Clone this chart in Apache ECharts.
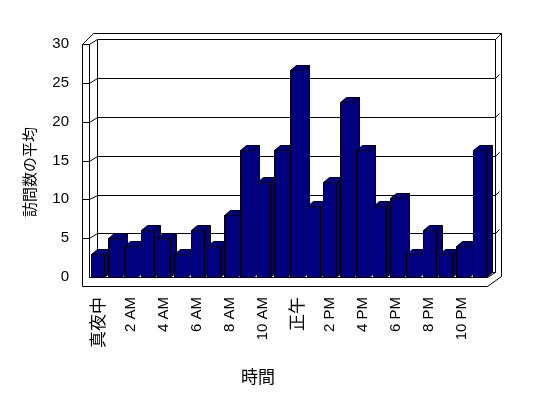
<!DOCTYPE html>
<html>
<head>
<meta charset="utf-8">
<script src="https://cdn.jsdelivr.net/npm/echarts@6/dist/echarts.min.js"></script>
<style>
  html, body { margin: 0; padding: 0; background: #fff; }
  #chart { width: 548px; height: 398px; }
</style>
</head>
<body>
<div id="chart"></div>
<script>
var hours = ['真夜中', '1 AM', '2 AM', '3 AM', '4 AM', '5 AM', '6 AM', '7 AM', '8 AM', '9 AM', '10 AM', '11 AM',
             '正午', '1 PM', '2 PM', '3 PM', '4 PM', '5 PM', '6 PM', '7 PM', '8 PM', '9 PM', '10 PM', '11 PM'];
var visits = [3, 5, 4, 6, 5, 3, 6, 4, 8, 16.3, 12.2, 16.3,
              26.6, 9.1, 12.2, 22.5, 16.3, 9.1, 10.2, 3, 6, 3, 4, 16.3];
var gridValues = [5, 10, 15, 20, 25];

var dom = document.getElementById('chart');
var myChart = echarts.init(dom);

var LT = 7.5;            // left wall front thickness
var FT = 9;              // floor front thickness
var WDX = 7.5, WDY = -4.7; // wall depth
var SDX = 6.5, SDY = -6;   // back wall slab thickness
var BDX = 6, BDY = -5;     // bar depth
var navy = '#000080';

function p(v) { return Math.round(v) + 0.5; }
function pts(arr) { return arr.map(function (a) { return [p(a[0]), p(a[1])]; }); }
var lineStyle = { stroke: '#000', lineWidth: 1, fill: null };

function renderFrame(params, api) {
    var cs = params.coordSys;
    var x0 = cs.x, x1 = cs.x + cs.width, yT = cs.y, yB = cs.y + cs.height;
    var xOutR = x1 + WDX + SDX;
    var yOutT = yT + WDY + SDY;
    var children = [];
    // outer outline
    children.push({ type: 'polygon', shape: { points: pts([
        [x0 - LT, yT], [x0 - LT, yB + FT], [x1, yB + FT], [xOutR, yB + FT - 10],
        [xOutR, yOutT], [x0 - LT + 11, yOutT]
    ]) }, style: { stroke: '#000', lineWidth: 1, fill: '#fff' } });
    // left wall front face and floor front top edge
    children.push({ type: 'polyline', shape: { points: pts([
        [x0 - LT, yT], [x0, yT], [x0, yB], [x1, yB], [x1 + WDX, yB + WDY]
    ]) }, style: lineStyle });
    // left wall top diagonal
    children.push({ type: 'polyline', shape: { points: pts([[x0, yT], [x0 + WDX, yT + WDY]]) }, style: lineStyle });
    // back wall inner face
    children.push({ type: 'polygon', shape: { points: pts([
        [x0 + WDX, yB + WDY], [x0 + WDX, yT + WDY], [x1 + WDX, yT + WDY], [x1 + WDX, yB + WDY]
    ]) }, style: lineStyle });
    // top right diagonal
    children.push({ type: 'polyline', shape: { points: pts([[x1 + WDX, yT + WDY], [xOutR, yOutT]]) }, style: lineStyle });
    return { type: 'group', children: children };
}

function renderGrid(params, api) {
    var cs = params.coordSys;
    var x0 = cs.x, x1 = cs.x + cs.width;
    var y = api.coord([0, api.value(1)])[1];
    return { type: 'polyline', shape: { points: pts([
        [x0 - LT, y], [x0, y], [x0 + WDX, y + WDY], [x1 + WDX, y + WDY], [x1 + WDX + 4, y + WDY - 4]
    ]) }, style: lineStyle };
}

function renderBar(params, api) {
    var top = api.coord([api.value(0), api.value(1)]);
    var base = api.coord([api.value(0), 0]);
    var band = api.size([1, 0])[0];
    var w = Math.round(band * 0.8);
    var xl = Math.round(top[0] - w / 2 + 0.3);
    var yt = Math.round(top[1]), yb = Math.round(base[1]);
    var st = { fill: navy, stroke: '#000', lineWidth: 1 };
    return { type: 'group', children: [
        { type: 'polygon', shape: { points: pts([[xl + w, yt], [xl + w + BDX, yt + BDY], [xl + w + BDX, yb + BDY], [xl + w, yb]]) }, style: st },
        { type: 'polygon', shape: { points: pts([[xl, yt], [xl + w, yt], [xl + w + BDX, yt + BDY], [xl + BDX, yt + BDY]]) }, style: st },
        { type: 'polygon', shape: { points: pts([[xl, yt], [xl + w, yt], [xl + w, yb], [xl, yb]]) }, style: st }
    ] };
}

var option = {
    animation: false,
    backgroundColor: '#fff',
    grid: { left: 89, top: 44, width: 398, height: 233 },
    xAxis: {
        type: 'category',
        data: hours,
        boundaryGap: true,
        axisLine: { show: false },
        axisTick: { show: true, interval: 0, length: 9, lineStyle: { color: '#000' } },
        axisLabel: {
            interval: 1, rotate: 90, margin: 20, color: '#000', fontSize: 15,
            fontFamily: '"Liberation Sans", "Noto Sans CJK JP"',
            formatter: function (v) {
                return /[^\x00-\x7f]/.test(v) ? '{c|' + v + '}' : v;
            },
            rich: { c: { fontSize: 17, fontFamily: '"Noto Sans CJK JP"', color: '#000' } }
        },
        splitLine: { show: false }
    },
    yAxis: {
        type: 'value', min: 0, max: 30, interval: 5,
        axisLine: { show: false },
        axisTick: { show: false },
        splitLine: { show: false },
        axisLabel: { margin: 20, color: '#000', fontSize: 15, fontFamily: '"Liberation Sans"' }
    },
    graphic: [
        { type: 'text', x: 29, y: 172, rotation: Math.PI / 2,
          style: { text: '訪問数の平均', fontSize: 15, fontFamily: '"Noto Sans CJK JP"', fill: '#000',
                   textAlign: 'center', textVerticalAlign: 'middle' } },
        { type: 'text', x: 258, y: 377,
          style: { text: '時間', fontSize: 17, fontFamily: '"Noto Sans CJK JP"', fill: '#000',
                   textAlign: 'center', textVerticalAlign: 'middle' } }
    ],
    series: [
        { type: 'custom', renderItem: renderFrame, data: [[0, 0]], silent: true, clip: false },
        { type: 'custom', renderItem: renderGrid, data: gridValues.map(function (v) { return [0, v]; }), silent: true, clip: false },
        { type: 'custom', renderItem: renderBar, data: visits.map(function (v, i) { return [i, v]; }), clip: false }
    ]
};

if (option && typeof option === "object") {
    myChart.setOption(option, true);
}
</script>
</body>
</html>
